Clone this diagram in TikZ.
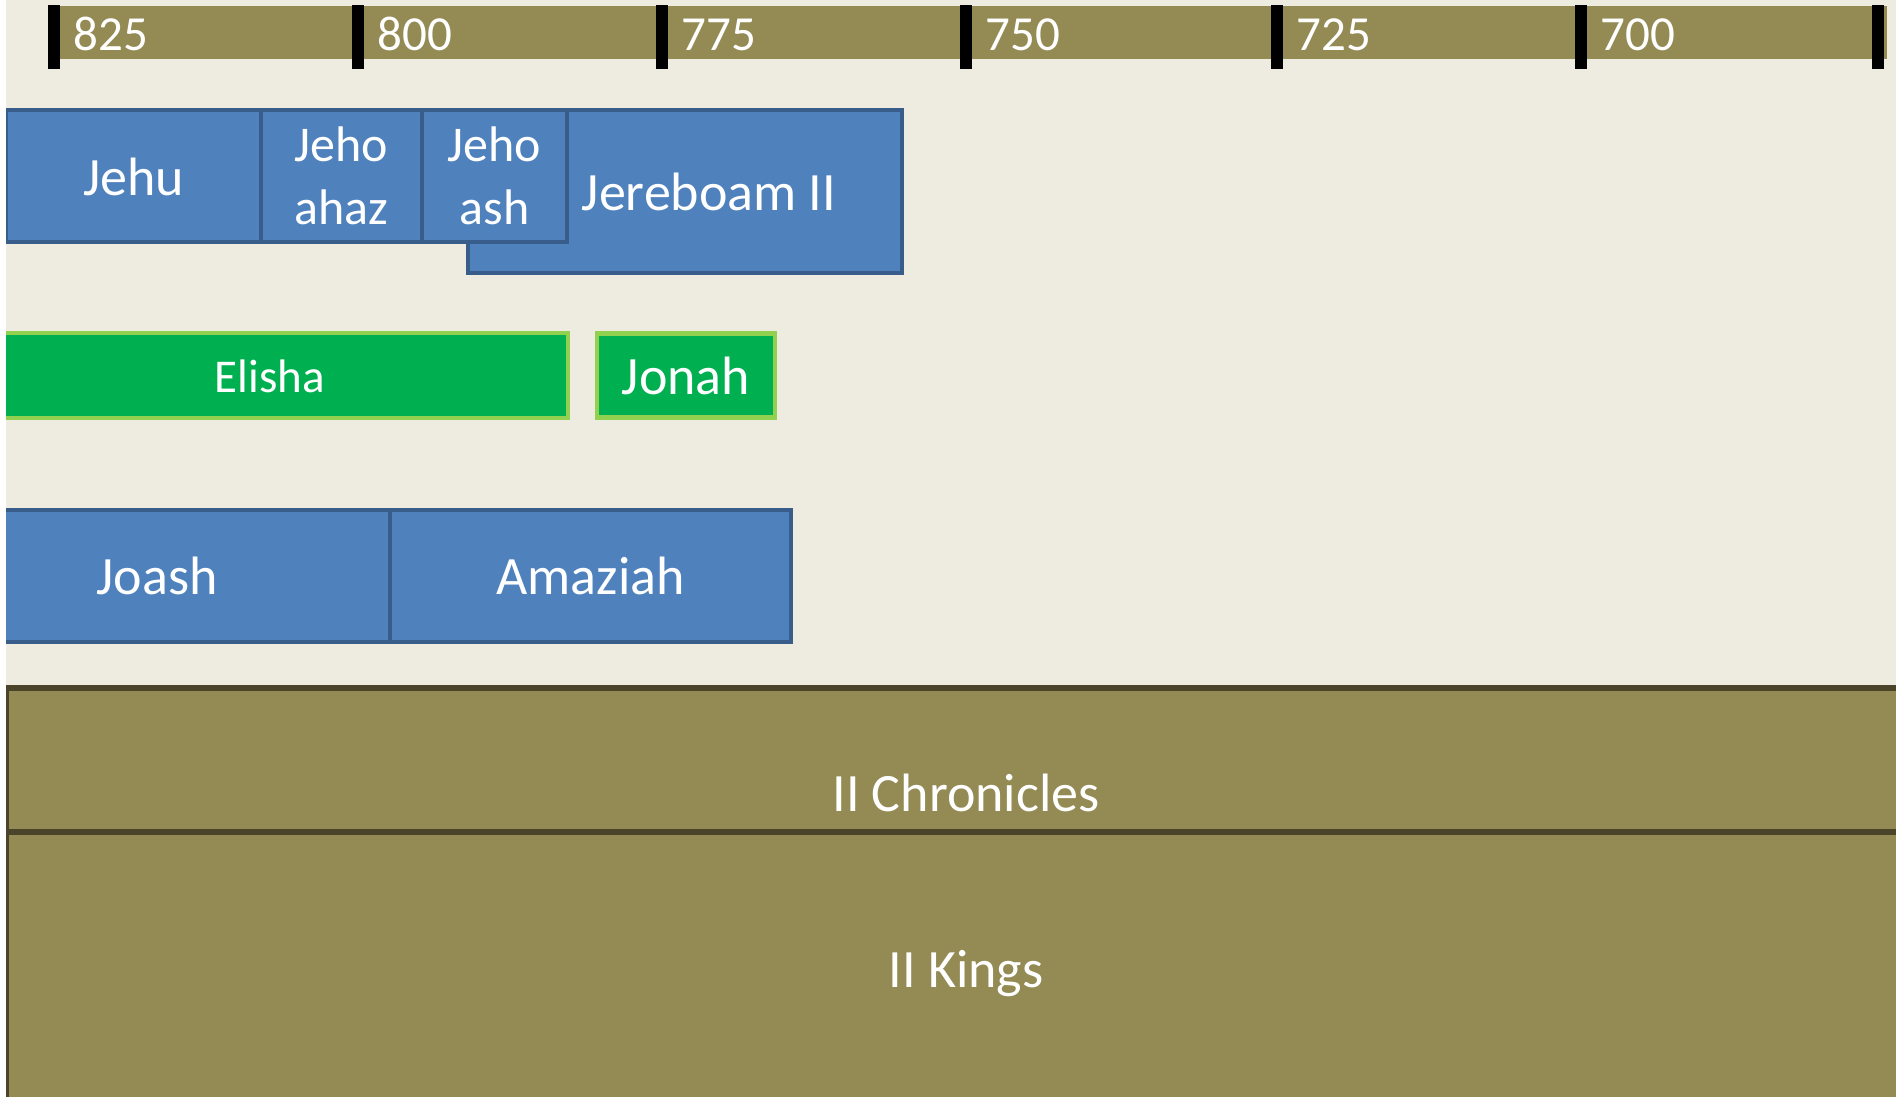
\documentclass[tikz,border=0pt]{standalone}
\usepackage{fontspec}
\setmainfont{Carlito}
\usetikzlibrary{positioning}
\definecolor{cream}{HTML}{EEECE1}
\definecolor{olive}{HTML}{948A54}
\definecolor{olivedark}{HTML}{4A452A}
\definecolor{kingblue}{HTML}{4F81BD}
\definecolor{kingedge}{HTML}{385D8A}
\definecolor{prophetgreen}{HTML}{00B050}
\definecolor{prophetedge}{HTML}{92D050}

\begin{document}
\begin{tikzpicture}[
  x=1pt,y=-1pt,
  tickmark/.style={fill=black,inner sep=0pt,minimum width=12pt,minimum height=64pt},
  oneline/.style={font=\fontsize{#1}{#1}\selectfont,text height={0.86*#1pt},text depth={0.14*#1pt}},
  oneline/.default=54,
  yearlab/.style={text=white,inner sep=0pt,oneline=49},
  reign/.style={draw=kingedge,fill=kingblue,line width=4pt,text=white,inner sep=0pt,font=\fontsize{54}{66}\selectfont},
  seer/.style={draw=prophetedge,fill=prophetgreen,line width=4.5pt,text=white,inner sep=0pt,font=\fontsize{54}{66}\selectfont},
  book/.style={draw=olivedark,fill=olive,line width=6pt,text=white,inner sep=0pt,oneline}
]
  \useasboundingbox (0,0) rectangle (1896,1097);
  \fill[white] (0,0) rectangle (1896,1097);
  \clip (6,0) rectangle (1896,1097);
  \fill[cream] (6,0) rectangle (1896,1097);

  \fill[olive] (48,6) rectangle (1887,59);
  \foreach \x/\yr in {54/825,358/800,662/775,966/750,1277/725,1581/700} {
    \node[tickmark] (t\yr) at (\x,37) {};
    \node[yearlab,right=13pt of t\yr,yshift=4.5pt] (y\yr) {\yr};
  }
  \node[tickmark] (tend) at (1878,37) {};

  \node[reign,oneline,minimum width=255pt,minimum height=132pt] (jehu) at (133.5,176) {Jehu};
  \node[reign,align=center,font=\fontsize{50}{63}\selectfont,minimum width=161pt,minimum height=132pt] (jehoahaz) at (341.5,176) {Jeho\\ahaz};
  \node[reign,oneline,minimum width=434pt,minimum height=163pt] (jeroboam) at (685,191.5) {\hspace*{48pt}Jereboam II};
  \node[reign,align=center,font=\fontsize{50}{63}\selectfont,minimum width=145pt,minimum height=132pt] (jehoash) at (494.5,176) {Jeho\\ash};

  \node[seer,oneline=47,minimum width=596pt,minimum height=85pt] (elisha) at (270,375.5) {Elisha};
  \node[seer,oneline,minimum width=178pt,minimum height=84pt] (jonah) at (686,375.5) {Jonah};

  \node[reign,oneline,minimum width=466pt,minimum height=132pt] (joash) at (157,575.5) {Joash};
  \node[reign,oneline,minimum width=401pt,minimum height=132pt] (amaziah) at (590.5,575.5) {Amaziah};

  \node[book,minimum width=1920pt,minimum height=208pt] (chronicles) at (966,792) {II Chronicles};
  \node[book,minimum width=1920pt,minimum height=273pt] (kings) at (966,968.5) {II Kings};
\end{tikzpicture}
\end{document}
